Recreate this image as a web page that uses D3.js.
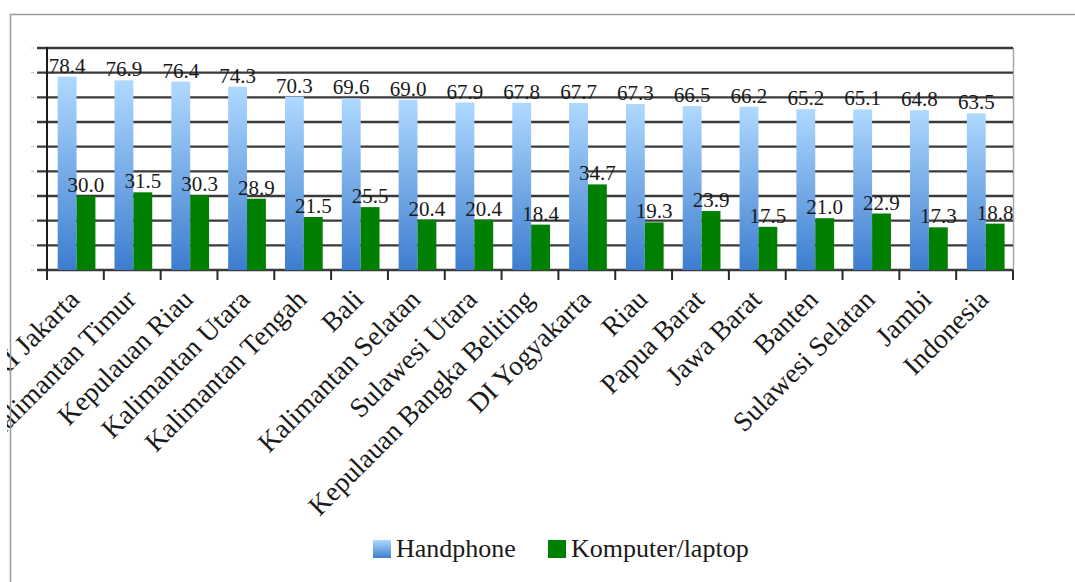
<!DOCTYPE html>
<html>
<head>
<meta charset="utf-8">
<script src="https://cdn.jsdelivr.net/npm/d3@7"></script>
<style>
  html, body { margin: 0; padding: 0; background: #fff; }
  svg { display: block; }
  text { font-family: "Liberation Serif", "Times New Roman", serif; fill: #1a1a1a; }
</style>
</head>
<body>
<svg id="chart" width="1075" height="582"></svg>
<script>
const categories = ["DKI Jakarta", "Kalimantan Timur", "Kepulauan Riau", "Kalimantan Utara",
  "Kalimantan Tengah", "Bali", "Kalimantan Selatan", "Sulawesi Utara",
  "Kepulauan Bangka Beliting", "DI Yogyakarta", "Riau", "Papua Barat",
  "Jawa Barat", "Banten", "Sulawesi Selatan", "Jambi", "Indonesia"];
const handphone = [78.4, 76.9, 76.4, 74.3, 70.3, 69.6, 69.0, 67.9, 67.8, 67.7, 67.3, 66.5, 66.2, 65.2, 65.1, 64.8, 63.5];
const komputer = [30.0, 31.5, 30.3, 28.9, 21.5, 25.5, 20.4, 20.4, 18.4, 34.7, 19.3, 23.9, 17.5, 21.0, 22.9, 17.3, 18.8];
const seriesNames = ["Handphone", "Komputer/laptop"];
const yTicks = [0, 10, 20, 30, 40, 50, 60, 70, 80, 90];

(function () {
const svg = d3.select("#chart");
const W = 1075, H = 582;
const pLeft = 47, pRight = 1013, pTop = 48, pBottom = 270;
const frameX = 10.5, frameY = 14.5;

const defs = svg.append("defs");
["hpGrad", "hpGradL"].forEach(id => {
  const g = defs.append("linearGradient").attr("id", id)
    .attr("x1", 0).attr("y1", 0).attr("x2", 0).attr("y2", 1);
  g.append("stop").attr("offset", "0%").attr("stop-color", "#afd9ff");
  g.append("stop").attr("offset", "100%").attr("stop-color", "#3d7dcf");
});
defs.append("clipPath").attr("id", "frameClip")
  .append("rect").attr("x", 7).attr("y", frameY).attr("width", W).attr("height", H);

const root = svg.append("g").attr("clip-path", "url(#frameClip)");

const y = d3.scaleLinear().domain([0, 90]).range([pBottom, pTop]);
const x0 = d3.scaleBand().domain(categories).range([pLeft, pRight]).paddingInner(0).paddingOuter(0);
const bw = x0.bandwidth();
const x1 = d3.scaleBand().domain(seriesNames).range([bw * 0.188, bw * 0.852]).padding(0);

// right border of plot
root.append("line").attr("x1", pRight + 0.5).attr("x2", pRight + 0.5)
  .attr("y1", pTop).attr("y2", pBottom).attr("stroke", "#a8a8a8").attr("stroke-width", 1.5);

// tiny marks where tick labels would be
root.append("g").selectAll("line").data(yTicks).join("line")
  .attr("x1", 31).attr("x2", 34)
  .attr("y1", d => y(d)).attr("y2", d => y(d))
  .attr("stroke", "#c8c8c8").attr("stroke-width", 1.2);

// gridlines (with left tick stubs)
root.append("g").selectAll("line").data(yTicks).join("line")
  .attr("x1", 37).attr("x2", pRight)
  .attr("y1", d => y(d)).attr("y2", d => y(d))
  .attr("stroke", "#3a3a3a").attr("stroke-width", 2.3);

// bars
const data = categories.map((c, i) => ({ c, vals: [handphone[i], komputer[i]] }));
const groups = root.append("g").selectAll("g").data(data).join("g")
  .attr("transform", d => `translate(${x0(d.c)},0)`);

groups.selectAll("rect").data(d => d.vals.map((v, j) => ({ s: seriesNames[j], v })))
  .join("rect")
  .attr("x", d => x1(d.s))
  .attr("width", x1.bandwidth())
  .attr("y", d => y(d.v))
  .attr("height", d => y(0) - y(d.v))
  .attr("fill", d => d.s === "Handphone" ? "url(#hpGrad)" : "#008000");

// data labels
groups.selectAll("text").data(d => d.vals.map((v, j) => ({ s: seriesNames[j], v })))
  .join("text")
  .attr("x", d => x1(d.s) + x1.bandwidth() / 2)
  .attr("y", d => y(d.v) - 4)
  .attr("text-anchor", "middle")
  .attr("font-size", 21)
  .text(d => d.v.toFixed(1));

// y axis line
root.append("line").attr("x1", pLeft).attr("x2", pLeft).attr("y1", pTop - 1).attr("y2", pBottom + 10)
  .attr("stroke", "#1a1a1a").attr("stroke-width", 2);

// x axis ticks at category boundaries
const boundaries = categories.map(c => x0(c)).concat([pRight]);
root.append("g").selectAll("line").data(boundaries).join("line")
  .attr("x1", d => d).attr("x2", d => d)
  .attr("y1", pBottom).attr("y2", pBottom + 10)
  .attr("stroke", "#2a2a2a").attr("stroke-width", 2);

// category labels
root.append("g").selectAll("text").data(categories).join("text")
  .attr("text-anchor", "end")
  .attr("font-size", 27.5)
  .attr("transform", c => `translate(${x0(c) + bw / 2 + 5.5},${pBottom + 31}) rotate(-45)`)
  .text(c => c);

// legend
const legend = root.append("g");
const legItems = [
  { name: seriesNames[0], fill: "url(#hpGradL)", x: 373 },
  { name: seriesNames[1], fill: "#008000", x: 548 }
];
legItems.forEach(it => {
  legend.append("rect").attr("x", it.x).attr("y", 540).attr("width", 18).attr("height", 18)
    .attr("fill", it.fill);
  legend.append("text").attr("x", it.x + 23).attr("y", 557).attr("font-size", 26).text(it.name);
});

// outer frame
svg.append("path")
  .attr("d", `M${frameX},${H + 2} L${frameX},${frameY} L${W + 2},${frameY}`)
  .attr("fill", "none").attr("stroke", "#9a9a9a").attr("stroke-width", 1.5);
})();
</script>
</body>
</html>
